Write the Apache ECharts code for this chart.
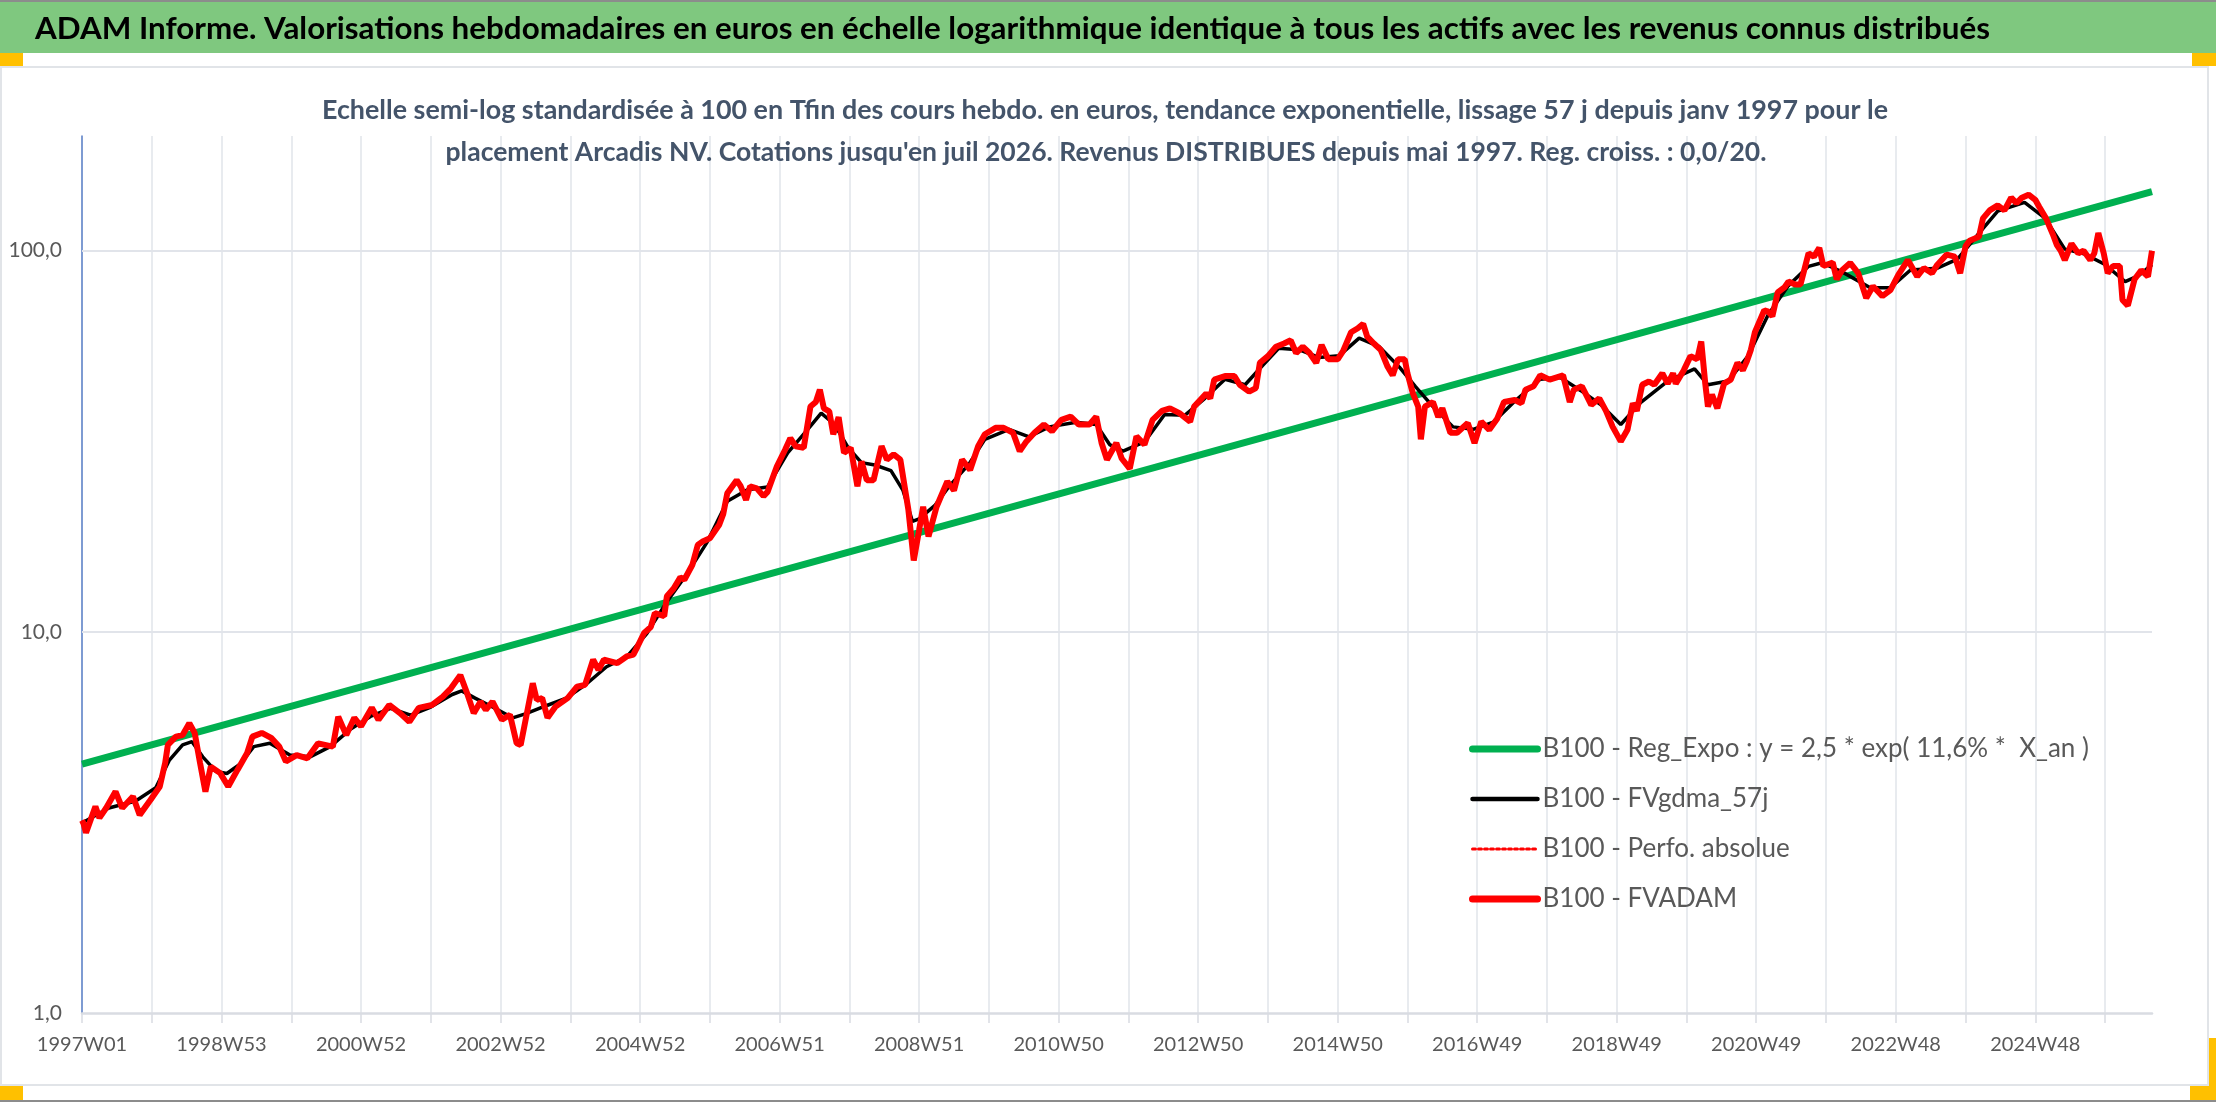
<!DOCTYPE html>
<html>
<head>
<meta charset="utf-8">
<title>ADAM Informe - Arcadis NV</title>
<script src="https://cdn.jsdelivr.net/npm/echarts@6/dist/echarts.min.js"></script>
<style>
  html, body { margin: 0; padding: 0; background: #fff; }
  #chart { width: 2216px; height: 1102px; }
</style>
</head>
<body>
<div id="chart"></div>
<script>
'use strict';

/*
 *
 * Arcadis NV - weekly valuations, semi-log scale
 *
 */

// ISO weeks shown on the category axis
const firstYear = 1997;
const lastYear = 2026;
const lastWeek = 31;
const longYears = [1998, 2004, 2009, 2015, 2020];

// log axis labels
const yTicks = [1, 10, 100];

// [week index, value]
const regExpo = [[0, 4.5], [1543, 143]];

const fvgdma = [
    [0, 3.15], [20, 3.45], [40, 3.6], [55, 3.9], [65, 4.6], [75, 5.05], [82, 5.15], [90, 4.7],
    [100, 4.3], [108, 4.25], [118, 4.5], [128, 5.0], [140, 5.1], [155, 4.75], [170, 4.7], [185, 5.0],
    [200, 5.55], [215, 6.0], [230, 6.3], [245, 6.05], [260, 6.35], [276, 6.85], [283, 7.0], [293, 6.7],
    [306, 6.35], [321, 5.95], [331, 6.1], [346, 6.4], [361, 6.7], [376, 7.3], [391, 8.1], [406, 8.6],
    [421, 9.9], [436, 12], [451, 14.2], [466, 17.2], [481, 22], [496, 23.6], [511, 24], [526, 29.5],
    [541, 34], [551, 37.5], [561, 35], [571, 30.5], [581, 27.8], [591, 27.4], [603, 26.5], [612, 23.5],
    [619, 19.5], [624, 19.8], [636, 21.5], [646, 24], [661, 27.5], [673, 32], [691, 34], [706, 32.5],
    [721, 34.5], [741, 35.5], [756, 35], [766, 31], [776, 29.8], [792, 31.5], [807, 37.2], [822, 37],
    [837, 41], [852, 46], [867, 44.5], [880, 50], [892, 55.5], [907, 55], [922, 52.5], [937, 53],
    [952, 59], [967, 56], [982, 49.5], [994, 44], [1007, 39], [1022, 34.5], [1037, 34], [1052, 35.5],
    [1067, 40], [1087, 46], [1102, 46.5], [1117, 43], [1132, 39.5], [1147, 35], [1162, 40], [1182, 45.5],
    [1202, 49], [1212, 44.5], [1227, 45.5], [1242, 53], [1257, 68], [1272, 81], [1287, 91], [1297, 93],
    [1312, 88], [1333, 80], [1348, 80], [1363, 89], [1383, 90], [1398, 95], [1413, 110], [1428, 127],
    [1448, 134], [1463, 122], [1478, 101], [1493, 98], [1508, 92], [1523, 83], [1533, 86], [1543, 92]
];

const fvadam = [
    [0, 3.2], [1, 3.15], [3, 2.97], [10, 3.48], [13, 3.25], [18, 3.45], [25, 3.81], [30, 3.45],
    [38, 3.70], [43, 3.31], [51, 3.62], [58, 3.93], [62, 4.53], [64, 5.05], [70, 5.31], [75, 5.36],
    [80, 5.76], [84, 5.43], [88, 4.53], [92, 3.81], [96, 4.43], [103, 4.26], [109, 3.93], [116, 4.35],
    [123, 4.80], [127, 5.31], [134, 5.43], [141, 5.27], [147, 5.0], [152, 4.57], [160, 4.75], [168, 4.66],
    [176, 5.10], [187, 5.0], [191, 5.99], [197, 5.36], [203, 5.95], [208, 5.65], [216, 6.32], [221, 5.88],
    [229, 6.43], [237, 6.12], [244, 5.81], [251, 6.32], [261, 6.43], [269, 6.76], [275, 7.11], [282, 7.70],
    [287, 6.91], [292, 6.12], [297, 6.56], [301, 6.24], [306, 6.56], [313, 5.88], [319, 6.06], [324, 5.10],
    [327, 5.05], [336, 7.33], [339, 6.63], [343, 6.70], [347, 5.95], [353, 6.37], [362, 6.70], [369, 7.18],
    [375, 7.26], [381, 8.45], [385, 7.95], [389, 8.45], [399, 8.28], [406, 8.62], [411, 8.72], [414, 9.14],
    [419, 9.93], [424, 10.3], [427, 11.2], [434, 11.0], [436, 12.4], [441, 13.0], [446, 13.9], [449, 13.7],
    [455, 15.0], [459, 16.9], [463, 17.3], [468, 17.6], [475, 19.1], [478, 20.4], [481, 23.1], [488, 25.0],
    [491, 24.1], [495, 22.2], [498, 24.1], [503, 23.8], [508, 22.7], [511, 23.3], [518, 27.2], [524, 30.0],
    [528, 32.2], [532, 30.7], [538, 30.4], [543, 39.0], [547, 40.1], [550, 43.2], [553, 38.6], [557, 37.9],
    [560, 33.0], [564, 36.6], [568, 29.5], [573, 30.4], [578, 24.1], [581, 28.0], [585, 25.0], [590, 25.0],
    [596, 30.7], [600, 28.3], [605, 29.2], [610, 28.3], [614, 23.1], [616, 20.9], [620, 15.4], [624, 18.5],
    [627, 21.3], [631, 17.8], [637, 21.3], [645, 24.8], [650, 23.5], [656, 28.3], [662, 26.6], [668, 30.7],
    [673, 33.0], [681, 34.3], [687, 34.3], [694, 33.3], [699, 29.8], [704, 31.6], [710, 33.3], [717, 35.0],
    [723, 33.6], [730, 36.0], [737, 36.7], [743, 35.0], [751, 35.0], [756, 36.7], [760, 31.3], [764, 28.3],
    [771, 31.3], [775, 28.5], [781, 26.8], [786, 32.6], [792, 31.0], [798, 36.0], [805, 38.0], [811, 38.6],
    [818, 37.5], [826, 35.6], [829, 39.0], [838, 42.2], [841, 41.0], [844, 45.9], [852, 46.9], [859, 46.9],
    [863, 44.5], [870, 42.7], [875, 43.6], [878, 50.8], [884, 52.9], [890, 56.0], [896, 57.1], [901, 58.2],
    [905, 53.9], [910, 56.0], [915, 53.9], [920, 50.8], [924, 56.6], [929, 51.9], [936, 51.9], [940, 54.5],
    [946, 61.1], [951, 62.6], [955, 64.3], [958, 59.5], [963, 57.1], [968, 55.0], [973, 49.8], [977, 47.1],
    [981, 51.9], [986, 51.9], [988, 47.7], [992, 42.3], [996, 39.0], [998, 32.0], [1001, 39.0], [1007, 40.1],
    [1011, 36.6], [1014, 38.6], [1020, 33.3], [1025, 33.3], [1033, 35.3], [1038, 31.3], [1043, 35.6], [1049, 33.9],
    [1055, 36.3], [1060, 40.1], [1068, 40.6], [1073, 39.8], [1076, 43.2], [1082, 44.1], [1087, 47.1], [1094, 45.9],
    [1104, 47.1], [1109, 40.1], [1112, 43.2], [1118, 44.1], [1125, 39.4], [1131, 41.0], [1136, 38.0], [1141, 34.5],
    [1147, 31.6], [1152, 33.9], [1156, 39.8], [1159, 38.0], [1163, 44.5], [1168, 45.4], [1172, 44.5], [1178, 47.7],
    [1182, 44.8], [1186, 47.7], [1188, 44.8], [1194, 48.6], [1199, 52.9], [1204, 51.9], [1207, 57.8], [1210, 44.8],
    [1212, 39.0], [1215, 41.9], [1219, 38.6], [1224, 44.8], [1229, 45.9], [1234, 50.8], [1238, 48.6], [1241, 51.3],
    [1244, 55.0], [1247, 61.1], [1254, 69.8], [1257, 69.2], [1260, 67.3], [1264, 77.7], [1269, 80.1], [1272, 83.0],
    [1277, 81.5], [1281, 81.5], [1287, 98.5], [1291, 96.5], [1295, 101.7], [1298, 91.2], [1305, 93.1], [1308, 84.2],
    [1312, 88.9], [1318, 92.9], [1324, 87.3], [1330, 75.1], [1335, 80.7], [1342, 76.0], [1348, 78.8], [1354, 86.5],
    [1361, 94.5], [1368, 85.6], [1373, 90.1], [1379, 87.3], [1383, 91.9], [1390, 97.7], [1396, 96.5], [1400, 87.3],
    [1404, 102.7], [1407, 106.2], [1414, 108.8], [1417, 121.6], [1422, 127.6], [1428, 131.5], [1433, 127.6], [1438, 137.8],
    [1442, 133.3], [1446, 137.8], [1451, 140.3], [1456, 136], [1459, 130.2], [1464, 121.6], [1469, 110.6], [1472, 103.7],
    [1475, 100], [1478, 94.5], [1483, 104.4], [1488, 98.5], [1492, 100], [1497, 94.5], [1500, 98.5], [1503, 111.3],
    [1507, 98.5], [1510, 87.3], [1514, 91.2], [1519, 91.2], [1521, 74.3], [1525, 71.8], [1530, 84.2], [1535, 88.9],
    [1540, 85.6], [1543, 100]
];

const seriesNames = [
    'B100 - Reg_Expo : y = 2,5 * exp( 11,6% *  X_an )',
    'B100 - FVgdma_57j',
    'B100 - Perfo. absolue',
    'B100 - FVADAM'
];

const bannerText = 'ADAM Informe. Valorisations hebdomadaires en euros en échelle logarithmique identique à tous les actifs avec les revenus connus distribués';
const subtitleLines = [
    'Echelle semi-log standardisée à 100 en Tfin des cours hebdo. en euros, tendance exponentielle, lissage 57 j depuis janv 1997 pour le',
    'placement Arcadis NV. Cotations jusqu\'en juil 2026. Revenus DISTRIBUES depuis mai 1997. Reg. croiss. : 0,0/20.'
];

const FONT = 'Lato';
const GRID_COLOR = '#e1e4ea';
const LABEL_COLOR = '#595959';

/**
 * Build ISO week labels, e.g. 1997W01
 */
const buildWeeks = () => {
    const weeks = [];
    for (let y = firstYear; y <= lastYear; y++) {
        const count = y === lastYear ? lastWeek : (longYears.indexOf(y) >= 0 ? 53 : 52);
        for (let w = 1; w <= count; w++) {
            weeks.push(y + 'W' + (w < 10 ? '0' + w : w));
        }
    }
    return weeks;
};

/**
 * Horizontal scale so that a text fills a given width
 * @param {String} text
 * @param {String} font
 * @param {Number} width
 */
const fitScale = (text, font, width) => {
    const ctx = document.createElement('canvas').getContext('2d');
    ctx.font = font;
    return width / ctx.measureText(text).width;
};

const textItem = (text, font, x, y, width, align, fill) => ({
    type: 'text',
    x: x,
    y: y,
    scaleX: fitScale(text, font, width),
    z: 10,
    style: { text: text, font: font, fill: fill, align: align, verticalAlign: 'middle' }
});

const rect = (x, y, width, height, fill) => ({
    type: 'rect',
    shape: { x: x, y: y, width: width, height: height },
    style: { fill: fill },
    z: 0
});

const logLabel = value => {
    const e = Math.log10(value);
    if (Math.abs(e - Math.round(e)) > 1e-6) {
        return '';
    }
    return Math.pow(10, Math.round(e)).toFixed(1).replace('.', ',');
};

// legend keys: line only, no marker
const legendItem = (name, width, type) => ({
    name: name,
    itemStyle: { opacity: 0 },
    lineStyle: { width: width, type: type || 'solid', cap: 'round' }
});

const getOptions = weeks => ({
    animation: false,
    backgroundColor: '#ffffff',
    graphic: [
        rect(0, 0, 2216, 2, '#8c8c8c'),
        rect(0, 2, 2216, 51, '#7fc87f'),
        {
            type: 'rect',
            shape: { x: 1, y: 67, width: 2207, height: 1018 },
            style: { fill: 'none', stroke: '#e1e4e8', lineWidth: 2 },
            z: 0
        },
        rect(0, 53, 23, 13, '#ffc000'),
        rect(2192, 53, 24, 13, '#ffc000'),
        rect(0, 1086, 23, 14, '#ffc000'),
        rect(2190, 1086, 26, 14, '#ffc000'),
        rect(2209, 1038, 7, 48, '#ffc000'),
        rect(0, 1100, 2216, 2, '#8c8c8c'),
        textItem(bannerText, 'bold 31px ' + FONT, 35, 29, 1955, 'left', '#000000'),
        textItem(subtitleLines[0], 'bold 27px ' + FONT, 1105, 110, 1566, 'center', '#44546a'),
        textItem(subtitleLines[1], 'bold 27px ' + FONT, 1106, 152, 1321, 'center', '#44546a')
    ],
    grid: { left: 82, right: 64, top: 136, bottom: 89 },
    legend: {
        orient: 'vertical',
        left: 1464,
        top: 729,
        padding: 5,
        itemWidth: 65,
        itemHeight: 14,
        itemGap: 20,
        textStyle: { fontFamily: FONT, fontSize: 26, color: LABEL_COLOR, lineHeight: 30 },
        data: [
            legendItem(seriesNames[0], 7),
            legendItem(seriesNames[1], 4.5),
            legendItem(seriesNames[2], 3, 'dotted'),
            legendItem(seriesNames[3], 7)
        ]
    },
    xAxis: {
        type: 'category',
        data: weeks,
        boundaryGap: false,
        axisLine: { lineStyle: { color: '#d9dce2', width: 2.5 } },
        axisTick: { show: true, interval: 51, length: 10, lineStyle: { color: '#d9dce2', width: 1.5 } },
        axisLabel: {
            interval: 103,
            margin: 22,
            color: LABEL_COLOR,
            fontFamily: FONT,
            fontSize: 20
        },
        splitLine: { show: true, interval: 51, lineStyle: { color: GRID_COLOR, width: 1.5 } }
    },
    yAxis: {
        type: 'log',
        logBase: 10,
        min: 1,
        max: 200,
        axisLine: { show: true, lineStyle: { color: '#5b80c8', width: 1.5 } },
        axisTick: { show: false },
        splitLine: { show: false },
        axisLabel: {
            margin: 20,
            color: LABEL_COLOR,
            fontFamily: FONT,
            fontSize: 21,
            formatter: logLabel
        }
    },
    series: [
        {
            name: seriesNames[0],
            type: 'line',
            data: regExpo,
            symbol: 'none',
            z: 2,
            lineStyle: { color: '#00b050', width: 7 },
            itemStyle: { color: '#00b050' },
            markLine: {
                silent: true,
                symbol: 'none',
                z: 1,
                animation: false,
                label: { show: false },
                lineStyle: { color: GRID_COLOR, width: 2, type: 'solid' },
                data: yTicks.slice(1).map(v => ({ yAxis: v }))
            }
        },
        {
            name: seriesNames[1],
            type: 'line',
            data: fvgdma,
            symbol: 'none',
            z: 3,
            lineStyle: { color: '#000000', width: 3.5 },
            itemStyle: { color: '#000000' }
        },
        {
            name: seriesNames[2],
            type: 'line',
            data: fvadam,
            symbol: 'none',
            z: 4,
            lineStyle: { color: '#ff0000', width: 2, type: 'dotted' },
            itemStyle: { color: '#ff0000' }
        },
        {
            name: seriesNames[3],
            type: 'line',
            data: fvadam,
            symbol: 'none',
            z: 5,
            lineStyle: { color: '#ff0000', width: 6 },
            itemStyle: { color: '#ff0000' }
        }
    ]
});

const chartDom = document.getElementById('chart');
const chart = echarts.init(chartDom, null, { renderer: 'canvas' });
chart.setOption(getOptions(buildWeeks()));
</script>
</body>
</html>
